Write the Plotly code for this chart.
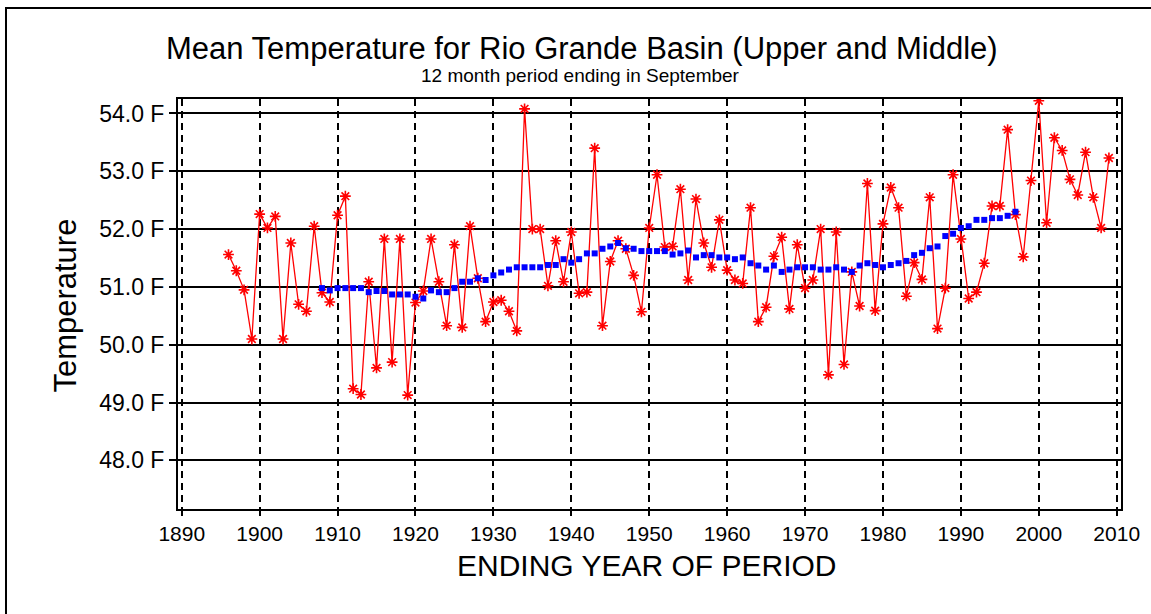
import plotly.graph_objects as go

# Annual mean temperature, 12-month periods ending in September
years = list(range(1896, 2010))
temps = [
    51.56, 51.28, 50.95, 50.10, 52.26, 52.02, 52.22, 50.10, 51.76, 50.70,  # 1896-1905
    50.58, 52.05, 50.90, 50.74, 52.24, 52.57, 49.24, 49.14, 51.09, 49.60,  # 1906-1915
    51.83, 49.70, 51.83, 49.13, 50.73, 50.93, 51.83, 51.09, 50.33, 51.73,  # 1916-1925
    50.30, 52.05, 51.15, 50.40, 50.74, 50.77, 50.58, 50.24, 54.08, 52.00,  # 1926-1935
    52.00, 51.02, 51.80, 51.09, 51.95, 50.89, 50.91, 53.40, 50.33, 51.44,  # 1936-1945
    51.80, 51.66, 51.20, 50.57, 52.02, 52.94, 51.69, 51.70, 52.69, 51.12,  # 1946-1955
    52.52, 51.76, 51.34, 52.16, 51.29, 51.12, 51.06, 52.37, 50.40, 50.65,  # 1956-1965
    51.53, 51.86, 50.62, 51.73, 50.98, 51.12, 52.00, 49.48, 51.95, 49.66,  # 1966-1975
    51.26, 50.67, 52.79, 50.59, 52.09, 52.72, 52.37, 50.84, 51.42, 51.13,  # 1976-1985
    52.55, 50.28, 50.98, 52.94, 51.83, 50.80, 50.91, 51.41, 52.40, 52.40,  # 1986-1995
    53.72, 52.25, 51.52, 52.84, 54.22, 52.11, 53.58, 53.36, 52.86, 52.59,  # 1996-2005
    53.33, 52.55, 52.02, 53.23,                                            # 2006-2009
]

# Running mean
avg_years = list(range(1908, 1998))
avg_temps = [
    50.98, 50.94, 50.98, 50.98, 50.98, 50.98, 50.91, 50.93, 50.93, 50.87,  # 1908-1917
    50.87, 50.87, 50.83, 50.80, 50.94, 50.91, 50.91, 50.98, 51.09, 51.09,  # 1918-1927
    51.15, 51.12, 51.20, 51.25, 51.30, 51.34, 51.34, 51.34, 51.34, 51.38,  # 1928-1937
    51.38, 51.48, 51.42, 51.48, 51.58, 51.58, 51.66, 51.70, 51.76, 51.67,  # 1938-1947
    51.66, 51.62, 51.62, 51.62, 51.62, 51.56, 51.58, 51.63, 51.51, 51.55,  # 1948-1957
    51.55, 51.51, 51.51, 51.48, 51.51, 51.41, 51.37, 51.30, 51.37, 51.26,  # 1958-1967
    51.30, 51.34, 51.34, 51.34, 51.30, 51.30, 51.34, 51.30, 51.26, 51.37,  # 1968-1977
    51.41, 51.38, 51.34, 51.38, 51.41, 51.45, 51.55, 51.59, 51.67, 51.70,  # 1978-1987
    51.88, 51.92, 52.02, 52.05, 52.16, 52.16, 52.19, 52.19, 52.23, 52.30,  # 1988-1997
]

y_tick_vals = [48, 49, 50, 51, 52, 53, 54]
y_tick_text = ["48.0 F", "49.0 F", "50.0 F", "51.0 F", "52.0 F", "53.0 F", "54.0 F"]

FONT = "Liberation Sans, Arial, sans-serif"

fig = go.Figure()

fig.add_trace(go.Scatter(
    x=years, y=temps,
    mode="lines+markers",
    line=dict(color="#ff0000", width=1.3),
    marker=dict(symbol="asterisk-open", size=9, color="#ff0000",
                line=dict(color="#ff0000", width=1.6)),
    showlegend=False,
))

fig.add_trace(go.Scatter(
    x=avg_years, y=avg_temps,
    mode="markers",
    marker=dict(symbol="square", size=6, color="#0000ff"),
    showlegend=False,
))

fig.update_layout(
    width=1151, height=614,
    margin=dict(l=178, r=30, t=99, b=105),
    paper_bgcolor="white", plot_bgcolor="white",
    font=dict(family=FONT, color="black"),
    xaxis=dict(
        range=[1889.52, 2010.55],
        tick0=1890, dtick=10,
        showgrid=True, gridcolor="black", gridwidth=1.5, griddash="7px,5px",
        showline=True, linecolor="black", linewidth=2, mirror=True,
        ticks="outside", ticklen=5, tickwidth=1.5, tickcolor="black",
        tickfont=dict(size=21, family=FONT),
        zeroline=False,
    ),
    yaxis=dict(
        range=[47.16, 54.25],
        tickvals=y_tick_vals, ticktext=y_tick_text,
        showgrid=True, gridcolor="black", gridwidth=1.5,
        showline=True, linecolor="black", linewidth=2, mirror=True,
        ticks="outside", ticklen=7, tickwidth=1.5, tickcolor="black",
        tickfont=dict(size=23, family=FONT),
        zeroline=False,
    ),
    annotations=[
        dict(text="Mean Temperature for Rio Grande Basin (Upper and Middle)",
             xref="paper", yref="paper", x=0.4284, y=1.124,
             xanchor="center", yanchor="middle", showarrow=False,
             font=dict(size=31, family=FONT)),
        dict(text="12 month period ending in September",
             xref="paper", yref="paper", x=0.4263, y=1.0585,
             xanchor="center", yanchor="middle", showarrow=False,
             font=dict(size=19, family=FONT)),
        dict(text="ENDING YEAR OF PERIOD",
             xref="paper", yref="paper", x=0.497, y=-0.1366,
             xanchor="center", yanchor="middle", showarrow=False,
             font=dict(size=30, family=FONT)),
        dict(text="Temperature",
             xref="paper", yref="paper", x=-0.1188, y=0.496,
             xanchor="center", yanchor="middle", showarrow=False,
             textangle=-90,
             font=dict(size=31, family=FONT)),
    ],
    shapes=[
        # page border
        dict(type="rect", xref="paper", yref="paper",
             x0=-0.1824, y0=-0.30, x1=1.06, y1=1.222,
             line=dict(color="black", width=2), fillcolor="rgba(0,0,0,0)",
             layer="above"),
    ],
)

fig.write_html("out.html")
